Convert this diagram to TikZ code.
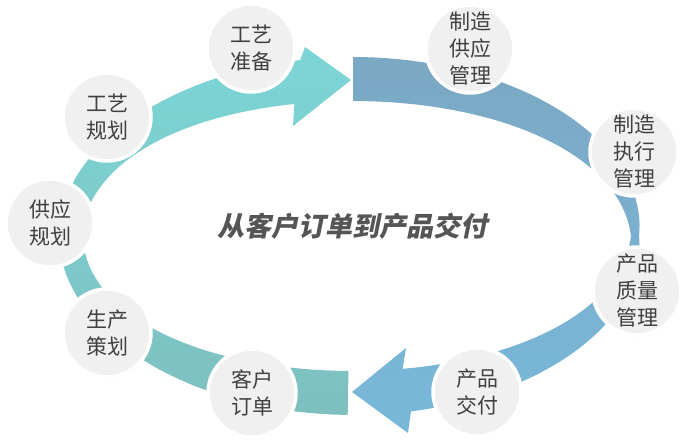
\documentclass[tikz,border=0pt]{standalone}
\usepackage{fontspec}
\setmainfont{Noto Sans CJK SC}
\newfontfamily\titlefont{Noto Sans CJK SC}[BoldFeatures={FakeSlant=0.2}]
\usetikzlibrary{shadows}
\definecolor{lefttop}{RGB}{124,213,213}
\definecolor{leftbottom}{RGB}{126,191,192}
\definecolor{righttop}{RGB}{123,168,195}
\definecolor{rightbottom}{RGB}{121,184,218}
\definecolor{stagegray}{RGB}{240,240,240}
\definecolor{stagetext}{RGB}{64,64,64}
\definecolor{titlegray}{RGB}{85,85,85}
\tikzset{
  stage/.style={circle, minimum size=88pt, inner sep=0pt, fill=stagegray,
    draw=white, line width=3.5pt, align=center, text=stagetext,
    font=\fontsize{21}{27}\selectfont,
    circular drop shadow={opacity=0.18, shadow xshift=0pt, shadow yshift=-1pt, shadow scale=1.03}},
  declare function={wl(\t)=12+10*sin(\t)^2; wr(\t)=4+18*abs(sin(\t));}
}
\begin{document}
\begin{tikzpicture}[x=1pt, y=-1pt]
    \useasboundingbox (0,0) rectangle (686,446);
    % left arrow: order -> planning -> preparation
    \shade[top color=lefttop, bottom color=leftbottom]
      plot[domain=269:100, samples=70] ({353+(282+wl(\x))*cos(\x)}, {236-(157+wl(\x))*sin(\x)})
      -- (305,47) -- (351,80) -- (293,126)
      -- plot[domain=103:269, samples=70] ({353+(282-wl(\x))*cos(\x)}, {236-(157-wl(\x))*sin(\x)})
      -- cycle;
    % right arrow: supply -> execution -> quality -> delivery
    \shade[top color=righttop, bottom color=rightbottom]
      plot[domain=90:-79, samples=80] ({353+(282+wr(\x))*cos(\x)}, {236-(157+wr(\x))*sin(\x)})
      -- (408,433) -- (352,392) -- (406,348)
      -- plot[domain=-79:90, samples=80] ({353+(282-wr(\x))*cos(\x)}, {236-(157-wr(\x))*sin(\x)})
      -- cycle;
    \foreach \name/\px/\py/\txt in {gyzb/251/48/{工艺\\准备}, gygh/107/117/{工艺\\规划},
        gygh2/50/223/{供应\\规划}, scch/107/333/{生产\\策划}, khdd/252/393/{客户\\订单},
        cpjf/477/392/{产品\\交付}, cpzl/637/291/{产品\\质量\\管理},
        zzzx/634/152/{制造\\执行\\管理}, zzgy/470/49/{制造\\供应\\管理}}
      \node[stage] (\name) at (\px,\py) {\txt};
    \node[text=titlegray, font=\fontsize{27}{30}\selectfont] (title) at (352,226)
      {\titlefont\bfseries 从客户订单到产品交付};
  \end{tikzpicture}
\end{document}
